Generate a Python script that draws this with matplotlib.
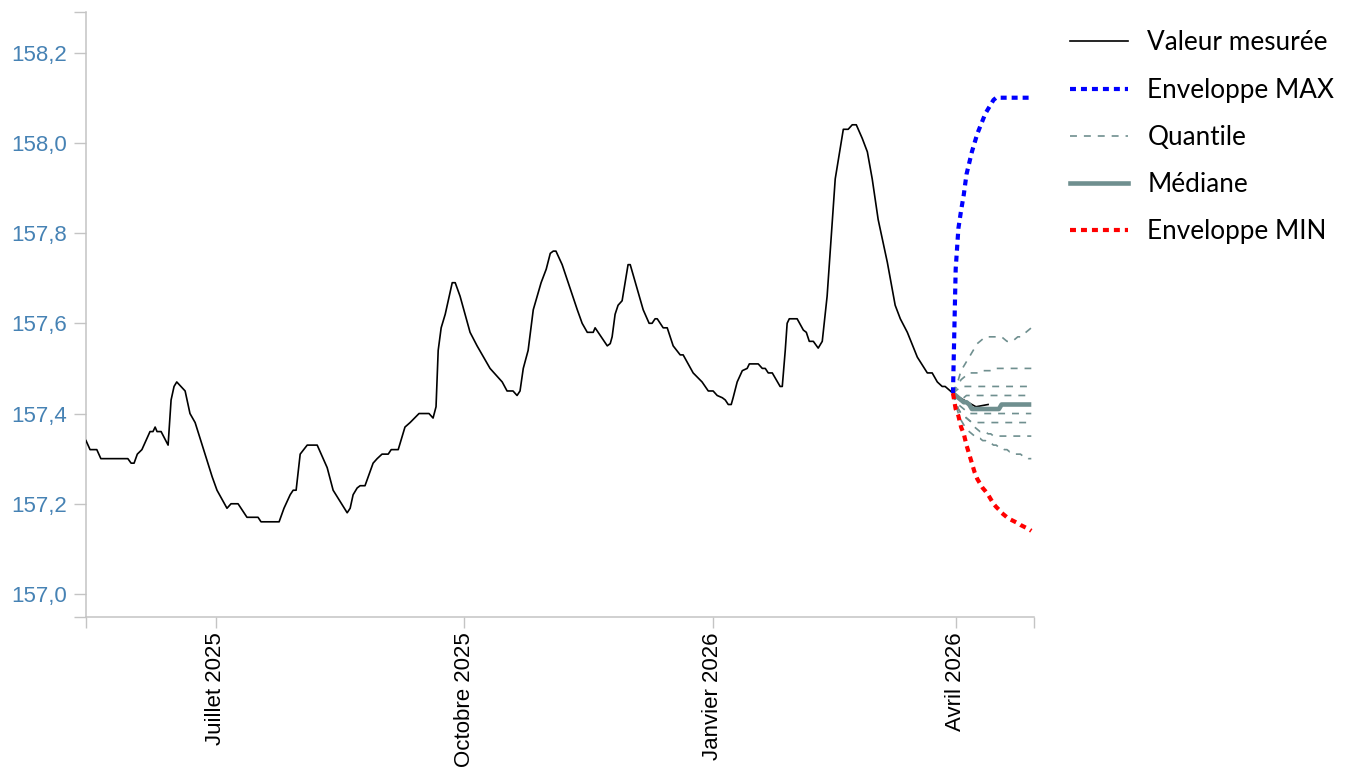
import numpy as np
import matplotlib
matplotlib.use("Agg")
import matplotlib.pyplot as plt
import matplotlib.dates as mdates
from matplotlib.lines import Line2D
from matplotlib.ticker import FuncFormatter

plt.rcParams["lines.scale_dashes"] = False

# valeurs mesurees (jours depuis le debut de la serie)
debut = np.datetime64("2025-05-14")
fin = np.datetime64("2026-04-30")
mesure_jours = [0, 1.5, 4, 5.5, 15.5, 16.7, 17.8, 19, 20.7, 22.2, 23.7, 24.8, 25.6, 26.3, 27.8, 30.4,
                31.5, 32.6, 33.6, 36.7, 38.5, 40.4, 44.1, 46.7, 48.5, 52.2, 53.7, 56.3, 59.6, 63.7,
                64.8, 71.5, 73.3, 75.6, 76.7, 77.8, 79.3, 81.9, 85.6, 87.8, 89.3, 91.5, 96.7, 97.8,
                98.9, 100.4, 101.5, 103.3, 106.3, 107.8, 109.6, 111.9, 113, 115.6, 118.1, 120, 123.3,
                127, 128.5, 129.6, 130.4, 131.5, 133, 134.1, 135.6, 136.7, 138.5, 142.2, 144.8, 149.6,
                154.1, 155.9, 158.1, 159.6, 160.7, 161.9, 163.7, 165.6, 168.5, 170.4, 171.9, 173, 174,
                176.3, 181.9, 183.7, 185.6, 187.8, 188.5, 193, 194.1, 194.8, 195.9, 197, 198.5, 200.7,
                201.5, 206.3, 208.5, 209.6, 210.7, 211.5, 213.7, 215.2, 217.4, 220, 221.1, 224.8,
                228.1, 230.4, 232.2, 233.7, 235.6, 236.7, 237.8, 238.9, 239.6, 241.1, 243, 244.8,
                245.6, 248.9, 250.4, 251.5, 252.6, 254.1, 257, 257.8, 258.9, 259.6, 260.4, 263.3,
                265.6, 266.7, 267.8, 269.3, 271.1, 272.6, 274.4, 277.4, 280.4, 282.2, 283.7, 285.2,
                287.4, 289.3, 291.1, 293.3, 296.7, 299.6, 301.5, 304.1, 307.8, 311.5, 313.3, 315.2,
                317, 318.1, 320, 321, 322, 325, 328, 329.5, 334]
mesure_valeurs = [157.34, 157.32, 157.32, 157.30, 157.30, 157.29, 157.29, 157.31, 157.32, 157.34,
                  157.36, 157.36, 157.37, 157.36, 157.36, 157.33, 157.43, 157.46, 157.47, 157.45,
                  157.40, 157.38, 157.31, 157.26, 157.23, 157.19, 157.20, 157.20, 157.17, 157.17,
                  157.16, 157.16, 157.19, 157.22, 157.23, 157.23, 157.31, 157.33, 157.33, 157.30,
                  157.28, 157.23, 157.18, 157.19, 157.22, 157.235, 157.24, 157.24, 157.29, 157.30,
                  157.31, 157.31, 157.32, 157.32, 157.37, 157.38, 157.40, 157.40, 157.39, 157.415,
                  157.54, 157.59, 157.62, 157.65, 157.69, 157.69, 157.66, 157.58, 157.55, 157.50,
                  157.47, 157.45, 157.45, 157.44, 157.45, 157.50, 157.54, 157.63, 157.69, 157.72,
                  157.755, 157.76, 157.76, 157.73, 157.63, 157.60, 157.58, 157.58, 157.59, 157.55,
                  157.555, 157.57, 157.62, 157.64, 157.65, 157.73, 157.73, 157.63, 157.60, 157.60,
                  157.61, 157.61, 157.59, 157.59, 157.55, 157.53, 157.53, 157.49, 157.47, 157.45,
                  157.45, 157.44, 157.435, 157.43, 157.42, 157.42, 157.435, 157.47, 157.495, 157.50,
                  157.51, 157.51, 157.50, 157.50, 157.49, 157.49, 157.46, 157.46, 157.54, 157.60,
                  157.61, 157.61, 157.585, 157.58, 157.56, 157.56, 157.545, 157.56, 157.66, 157.92,
                  158.03, 158.03, 158.04, 158.04, 158.01, 157.98, 157.92, 157.83, 157.735, 157.64,
                  157.61, 157.58, 157.525, 157.49, 157.49, 157.47, 157.46, 157.46, 157.45, 157.445,
                  157.44, 157.43, 157.42, 157.415, 157.42]

# prevision journaliere a partir du 31 mars 2026
prevision_debut = np.datetime64("2026-03-31")
env_max = [157.445, 157.72, 157.81, 157.85, 157.885, 157.93, 157.955, 157.98, 158.00, 158.02,
           158.035, 158.05, 158.065, 158.075, 158.085, 158.095, 158.10, 158.10, 158.10, 158.10,
           158.10, 158.10, 158.10, 158.10, 158.10, 158.10, 158.10, 158.10, 158.10, 158.10]
env_min = [157.445, 157.41, 157.395, 157.37, 157.355, 157.33, 157.31, 157.29, 157.27, 157.255,
           157.245, 157.235, 157.228, 157.22, 157.21, 157.20, 157.193, 157.187, 157.18, 157.175,
           157.17, 157.166, 157.163, 157.16, 157.157, 157.153, 157.15, 157.147, 157.144, 157.14]
mediane = [157.445, 157.44, 157.435, 157.43, 157.425, 157.425, 157.42, 157.41, 157.41, 157.41,
           157.41, 157.41, 157.41, 157.41, 157.41, 157.41, 157.41, 157.41, 157.42, 157.42,
           157.42, 157.42, 157.42, 157.42, 157.42, 157.42, 157.42, 157.42, 157.42, 157.42]
q1 = [157.445, 157.46, 157.475, 157.495, 157.505, 157.515, 157.525, 157.535, 157.545, 157.555,
      157.56, 157.565, 157.57, 157.57, 157.57, 157.57, 157.57, 157.57, 157.57, 157.565,
      157.56, 157.56, 157.56, 157.565, 157.57, 157.57, 157.575, 157.58, 157.585, 157.59]
q2 = [157.445, 157.455, 157.465, 157.475, 157.48, 157.485, 157.49, 157.49, 157.49, 157.49,
      157.49, 157.495, 157.495, 157.495, 157.495, 157.50, 157.50, 157.50, 157.50, 157.50,
      157.50, 157.50, 157.50, 157.50, 157.50, 157.50, 157.50, 157.50, 157.50, 157.50]
q3 = [157.445, 157.45, 157.455] + [157.46] * 27
q4 = [157.445, 157.44, 157.435, 157.43, 157.435] + [157.44] * 25
q5 = [157.445, 157.43, 157.42, 157.415, 157.41, 157.405] + [157.40] * 24
q6 = [157.445, 157.425, 157.41, 157.40, 157.395, 157.39, 157.385] + [157.38] * 23
q7 = [157.445, 157.425, 157.41, 157.40, 157.395, 157.39, 157.385, 157.38, 157.37, 157.365,
      157.36, 157.36, 157.36, 157.355, 157.355] + [157.35] * 15
q8 = [157.445, 157.42, 157.40, 157.385, 157.375, 157.365, 157.36, 157.355, 157.35, 157.345,
      157.345, 157.34, 157.34, 157.335, 157.335, 157.33, 157.33, 157.325, 157.325, 157.32,
      157.32, 157.315, 157.315, 157.31, 157.31, 157.31, 157.305, 157.305, 157.30, 157.30]
quantiles = [q1, q2, q3, q4, q5, q6, q7, q8]

y_ticks = [157.0, 157.2, 157.4, 157.6, 157.8, 158.0, 158.2]
y_bas, y_haut = 156.949, 158.290
mois_ticks = ["2025-07-01", "2025-10-01", "2026-01-01", "2026-04-01"]
mois_labels = ["Juillet 2025", "Octobre 2025", "Janvier 2026", "Avril 2026"]

gris_q = "#6f8f8f"
axe = "#c4c4c4"

x_mes = mdates.date2num(debut) + np.array(mesure_jours)
x_prev = mdates.date2num(prevision_debut) + np.arange(len(mediane))

fig = plt.figure(figsize=(13.51, 7.74), dpi=100)
ax = fig.add_axes([86 / 1351, 1 - 617 / 774, (1034 - 86) / 1351, 605 / 774])

for q in quantiles:
    ax.plot(x_prev, q, color=gris_q, lw=1.2, dashes=(5, 5), zorder=2)
ax.plot(x_mes, mesure_valeurs, color="black", lw=1.2, zorder=3)
ax.plot(x_prev, mediane, color=gris_q, lw=3.3, zorder=4, solid_capstyle="butt")
ax.plot(x_prev, env_max, color="#0000ff", lw=3, dashes=(4.3, 3.6), zorder=5)
ax.plot(x_prev, env_min, color="#ff0000", lw=3, dashes=(4.3, 3.6), zorder=5)

ax.set_xlim(mdates.date2num(debut), mdates.date2num(fin))
ax.set_ylim(y_bas, y_haut)

for s in ["top", "right"]:
    ax.spines[s].set_visible(False)
for s in ["left", "bottom"]:
    ax.spines[s].set_color(axe)
    ax.spines[s].set_linewidth(1.1)

ax.set_yticks([y_bas] + y_ticks + [y_haut])
ax.yaxis.set_major_formatter(FuncFormatter(
    lambda v, p: f"{v:.1f}".replace(".", ",") if 156.99 < v < 158.21 else ""))
ax.tick_params(axis="y", length=8.6, width=1, color=axe, pad=5,
               labelsize=16, labelcolor="#4682b4")

x_ticks = [mdates.date2num(debut)] + [mdates.date2num(np.datetime64(m)) for m in mois_ticks] \
    + [mdates.date2num(fin)]
ax.set_xticks(x_ticks)
ax.set_xticklabels([""] + mois_labels + [""], rotation=90)
ax.tick_params(axis="x", length=8, width=1, color=axe, pad=3, labelsize=16, labelcolor="black")
for lab in ax.get_xticklabels() + ax.get_yticklabels():
    lab.set_family("Liberation Sans")

poignees = [
    Line2D([], [], color="black", lw=1.2),
    Line2D([], [], color="#0000ff", lw=3, dashes=(4.3, 3.6)),
    Line2D([], [], color=gris_q, lw=1.2, dashes=(5, 5)),
    Line2D([], [], color=gris_q, lw=3.3),
    Line2D([], [], color="#ff0000", lw=3, dashes=(4.3, 3.6)),
]
noms = ["Valeur mesurée", "Enveloppe MAX", "Quantile", "Médiane", "Enveloppe MIN"]
fig.legend(poignees, noms, loc="upper left", bbox_to_anchor=(1060 / 1351, 1 - 20 / 774),
           frameon=False, prop={"family": "Lato", "size": 18.8}, handlelength=2.2,
           handletextpad=0.75, labelspacing=0.85, borderaxespad=0)

fig.savefig("out.png", dpi=100)
